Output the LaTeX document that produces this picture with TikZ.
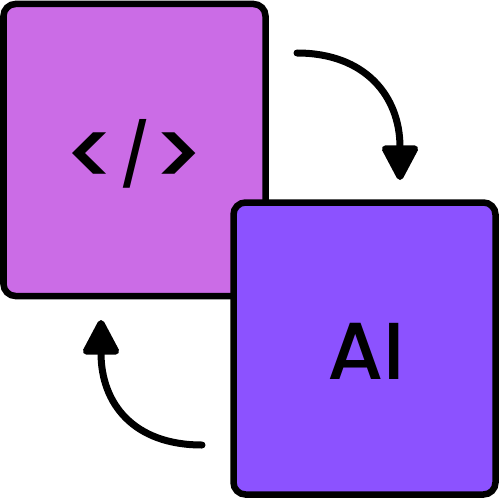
\documentclass[tikz,border=0pt]{standalone}
\usepackage{fontspec}
\usetikzlibrary{arrows.meta}
\newfontfamily\labelfont{Poppins}[UprightFont={* Medium}]

\newlength{\du}
\setlength{\du}{0.02cm}

\definecolor{codecolor}{rgb}{0.796078, 0.423529, 0.901961}
\definecolor{aicolor}{rgb}{0.549020, 0.321569, 1.000000}

\newcommand{\bigsign}[1]{\raisebox{-9\du}{\fontsize{52}{52}\selectfont#1}}
\newcommand{\slashsign}{{\fontsize{35}{35}\selectfont/}}

\tikzset{
  tile/.style={draw=black, line width=6.5\du, rounded corners=12\du,
    minimum width=262\du, minimum height=292\du, inner sep=0pt},
  codebox/.style={tile, fill=codecolor},
  aibox/.style={tile, fill=aicolor},
  tiletext/.style={inner sep=0pt, font=\labelfont\fontsize{46}{48}\selectfont},
  flowarrow/.style={draw=black, line width=7\du, line cap=round,
    -{Triangle[width=0.78cm, length=0.78cm, round]}}
}

\begin{document}
\begin{tikzpicture}
\pgftransformxscale{1.000000}
\pgftransformyscale{-1.000000}
\useasboundingbox (0\du,0\du) rectangle (500\du,500\du);
% the two tiles
\node[codebox] (code) at (134.500000\du,150.000000\du){};
\node[aibox] (ai) at (364.500000\du,348.500000\du){};
\node[tiletext, anchor=base] (codelabel) at (134.500000\du,177.000000\du){\bigsign{<}\slashsign\bigsign{>}};
\node[tiletext] (ailabel) at (366.000000\du,351.500000\du){AI};
% arrow ends
\coordinate (toptail) at (297.000000\du,53.000000\du);
\coordinate (tophead) at (400.000000\du,180.000000\du);
\coordinate (lowtail) at (202.000000\du,445.000000\du);
\coordinate (lowhead) at (101.000000\du,320.000000\du);
\draw[flowarrow] (toptail) .. controls +(68\du,0\du) and +(0\du,-84\du) .. (tophead);
\draw[flowarrow] (lowtail) .. controls +(-68\du,0\du) and +(0\du,84\du) .. (lowhead);
\end{tikzpicture}
\end{document}
